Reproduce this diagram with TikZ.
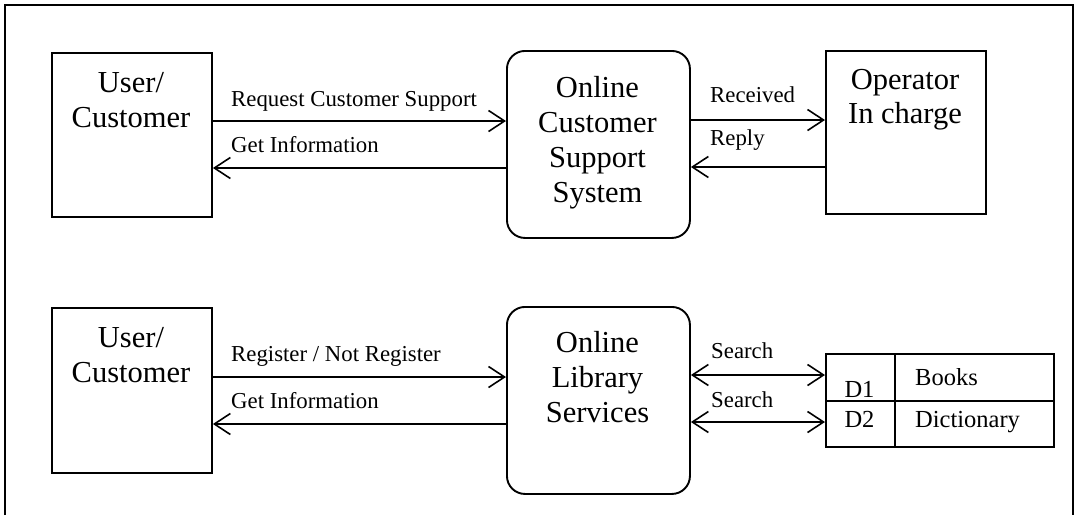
\documentclass[tikz,border=0pt]{standalone}
\usepackage{fontspec}
\setmainfont{Liberation Serif}
\usetikzlibrary{arrows.meta}
\begin{document}
\begin{tikzpicture}[x=1pt,y=-1pt,
  box/.style={draw, line width=1.9pt, inner sep=0pt},
  rbox/.style={draw, line width=1.9pt, rounded corners=18pt, inner sep=0pt},
  big/.style={font=\fontsize{30.5}{34}\selectfont, inner sep=0pt, anchor=base},
  lab/.style={font=\fontsize{22.8}{24}\selectfont, inner sep=0pt, anchor=base west},
  ds/.style={font=\fontsize{24.5}{26}\selectfont, inner sep=0pt},
  arr/.style={line width=1.6pt, -{Straight Barb[length=16pt,width=21pt,line width=1.6pt]}},
  darr/.style={line width=1.6pt, {Straight Barb[length=16pt,width=21pt,line width=1.6pt]}-{Straight Barb[length=16pt,width=21pt,line width=1.6pt]}},
  frame/.style={line width=1.9pt}]
\useasboundingbox (0,0) rectangle (1077,515);
\coordinate (fa) at (5,515);
\coordinate (fb) at (5,5);
\coordinate (fc) at (1073,5);
\coordinate (fd) at (1073,515);
\draw[frame] (fa) -- (fb) -- (fc) -- (fd);

% ---------- top ----------
\node[box, minimum width=160pt, minimum height=164pt, anchor=north west] (u1) at (51,52) {};
\node[big] (u1a) at (131,92) {User/};
\node[big] (u1b) at (131,127) {Customer};

\node[rbox, minimum width=183pt, minimum height=187pt, anchor=north west] (css) at (506,50) {};
\node[big] (cssa) at (597.5,97) {Online};
\node[big] (cssb) at (597.5,132) {Customer};
\node[big] (cssc) at (597.5,167) {Support};
\node[big] (cssd) at (597.5,202) {System};

\node[box, minimum width=160pt, minimum height=163pt, anchor=north west] (op) at (825,50) {};
\node[big] (opa) at (905,89) {Operator};
\node[big] (opb) at (905,123) {In charge};

\draw[arr] (u1.east |- 0,121) -- (css.west |- 0,121);
\draw[arr] (css.west |- 0,168) -- (u1.east |- 0,168);
\node[lab] (l1) at (231,106) {Request Customer Support};
\node[lab] (l2) at (231,152) {Get Information};

\draw[arr] (css.east |- 0,120) -- (op.west |- 0,120);
\draw[arr] (op.west |- 0,167) -- (css.east |- 0,167);
\node[lab] (l3) at (710,102) {Received};
\node[lab] (l4) at (710,145) {Reply};

% ---------- bottom ----------
\node[box, minimum width=160pt, minimum height=165pt, anchor=north west] (u2) at (51,307) {};
\node[big] (u2a) at (131,347) {User/};
\node[big] (u2b) at (131,382) {Customer};

\node[rbox, minimum width=183pt, minimum height=187pt, anchor=north west] (ols) at (506,306) {};
\node[big] (olsa) at (597.5,352) {Online};
\node[big] (olsb) at (597.5,387) {Library};
\node[big] (olsc) at (597.5,422) {Services};

\draw[arr] (u2.east |- 0,377) -- (ols.west |- 0,377);
\draw[arr] (ols.west |- 0,424) -- (u2.east |- 0,424);
\node[lab] (l5) at (231,361) {Register / Not Register};
\node[lab] (l6) at (231,408) {Get Information};

% data stores
\node[box, minimum width=69pt, minimum height=47pt, anchor=north west] (d1id) at (825,353) {};
\node[box, minimum width=159pt, minimum height=47pt, anchor=north west] (d1n) at (894,353) {};
\node[box, minimum width=69pt, minimum height=46pt, anchor=north west] (d2id) at (825,400) {};
\node[box, minimum width=159pt, minimum height=46pt, anchor=north west] (d2n) at (894,400) {};
\node[ds, anchor=base] (d1t) at (859.5,397) {D1};
\node[ds, anchor=base west] (d1b) at (915,385) {Books};
\node[ds, anchor=base] (d2t) at (859.5,427) {D2};
\node[ds, anchor=base west] (d2b) at (915,427) {Dictionary};

\draw[darr] (ols.east |- 0,375) -- (d1id.west |- 0,375);
\draw[darr] (ols.east |- 0,422) -- (d2id.west |- 0,422);
\node[lab] (l7) at (711,358) {Search};
\node[lab] (l8) at (711,407) {Search};
\end{tikzpicture}
\end{document}
